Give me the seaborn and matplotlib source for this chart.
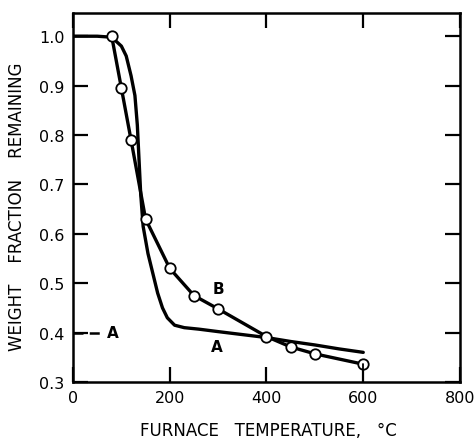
import matplotlib
matplotlib.use("Agg")
import matplotlib.pyplot as plt
import seaborn as sns
import pandas as pd

# Curve B: measured points (open circles)
b_temp = [80, 100, 120, 150, 200, 250, 300, 400, 450, 500, 600]
b_frac = [1.0, 0.895, 0.79, 0.63, 0.53, 0.475, 0.448, 0.392, 0.371, 0.357, 0.336]

# Curve A: smooth trace
a_temp = [0, 50, 80, 100, 110, 120, 128, 133, 137, 140, 145, 155, 165, 175,
          185, 195, 210, 230, 260, 300, 350, 400, 450, 500, 550, 600]
a_frac = [1.0, 1.0, 0.998, 0.98, 0.96, 0.92, 0.88, 0.82, 0.74, 0.68, 0.615,
          0.56, 0.52, 0.48, 0.45, 0.43, 0.415, 0.41, 0.407, 0.402, 0.396,
          0.39, 0.382, 0.375, 0.367, 0.36]

x_ticks = [0, 200, 400, 600, 800]
y_ticks = [0.3, 0.4, 0.5, 0.6, 0.7, 0.8, 0.9, 1.0]
a_level = 0.4

x_label = "FURNACE   TEMPERATURE,   °C"
y_label = "WEIGHT    FRACTION    REMAINING"

df_a = pd.DataFrame({"temp": a_temp, "frac": a_frac})
df_b = pd.DataFrame({"temp": b_temp, "frac": b_frac})

sns.set_style("ticks")
plt.rcParams["font.family"] = ["DejaVu Sans"]
plt.rcParams["text.color"] = "black"
plt.rcParams["axes.labelcolor"] = "black"
plt.rcParams["xtick.color"] = "black"
plt.rcParams["ytick.color"] = "black"

fig = plt.figure(figsize=(4.77, 4.39), dpi=100)
ax = fig.add_axes([73 / 477, 1 - 383 / 439, 387 / 477, 369 / 439])

sns.lineplot(data=df_a, x="temp", y="frac", ax=ax, color="black", lw=2.4,
             estimator=None, sort=False)
sns.lineplot(data=df_b, x="temp", y="frac", ax=ax, color="black", lw=2.4,
             estimator=None, sort=False, marker="o", markersize=7.5,
             markerfacecolor="white", markeredgecolor="black",
             markeredgewidth=1.3)

# dashed asymptote marker for A at the left axis
ax.plot([0, 60], [a_level, a_level], color="black", lw=1.8, ls=(0, (4, 2.5)))
ax.text(82, a_level, "A", ha="center", va="center", fontsize=11,
        fontweight="bold")
ax.text(300, 0.49, "B", ha="center", va="center", fontsize=11,
        fontweight="bold")
ax.text(297, 0.372, "A", ha="center", va="center", fontsize=11,
        fontweight="bold")

# tick at 600 down to the axis
ax.plot([600, 600], [0.3, 0.336], color="black", lw=1.3)

ax.set_xlim(0, 800)
ax.set_ylim(0.3, 1.047)
ax.set_xticks(x_ticks)
ax.set_yticks(y_ticks)
ax.set_xticklabels([str(t) for t in x_ticks])
ax.set_yticklabels([f"{t:.1f}" for t in y_ticks])
ax.tick_params(direction="in", length=11, width=1.6, labelsize=11.5,
               top=True, right=True, pad=6, colors="black")
for s in ax.spines.values():
    s.set_linewidth(1.8)
    s.set_color("black")

ax.set_xlabel(x_label, fontsize=12)
ax.set_ylabel(y_label, fontsize=12)
ax.xaxis.set_label_coords(0.505, -0.13)
ax.yaxis.set_label_coords(-0.145, 0.477)
ax.xaxis.label.set_va("center")
ax.yaxis.label.set_va("center")

fig.savefig("out.png", dpi=100)
